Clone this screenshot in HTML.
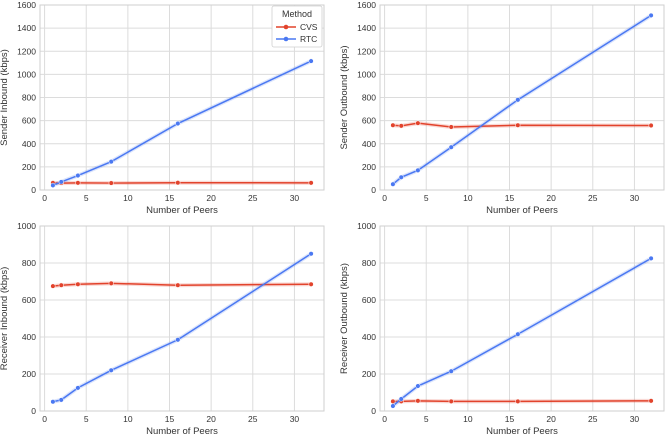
<!DOCTYPE html>
<html><head><meta charset="utf-8"><style>
html,body{margin:0;padding:0;background:#fff;}
svg{display:block;font-family:"Liberation Sans",Arial,sans-serif;}
</style></head><body>
<svg id="c" width="668" height="438" viewBox="0 0 668 438"></svg>
<script>
const peers = [1, 2, 4, 8, 16, 32];
const xTicks = [0, 5, 10, 15, 20, 25, 30];
const senderInCVS = [62, 60, 62, 60, 63, 62];
const senderInRTC = [40, 70, 125, 245, 575, 1115];
const senderOutCVS = [560, 555, 578, 545, 560, 558];
const senderOutRTC = [50, 110, 170, 370, 780, 1510];
const recvInCVS = [675, 680, 685, 690, 680, 685];
const recvInRTC = [50, 60, 125, 220, 385, 850];
const recvOutCVS = [52, 52, 55, 52, 52, 55];
const recvOutRTC = [27, 65, 135, 215, 415, 825];
const yTicksTop = [0, 200, 400, 600, 800, 1000, 1200, 1400, 1600];
const yTicksBottom = [0, 200, 400, 600, 800, 1000];

const NS = "http://www.w3.org/2000/svg";
const svg = document.getElementById('c');
function mk(tag, attrs, parent) {
  const e = document.createElementNS(NS, tag);
  for (const k in attrs) e.setAttribute(k, attrs[k]);
  (parent || svg).appendChild(e);
  return e;
}
const RED = '#e2432c', BLUE = '#4a78f2';

const panels = [
  {name:'sender-inbound', L:40, R:324, T:5, B:190, ymax:1600, yt:yTicksTop, label:'Sender Inbound (kbps)', cvs:senderInCVS, rtc:senderInRTC, legend:true},
  {name:'sender-outbound', L:380, R:664, T:5, B:190, ymax:1600, yt:yTicksTop, label:'Sender Outbound (kbps)', cvs:senderOutCVS, rtc:senderOutRTC},
  {name:'receiver-inbound', L:40, R:324, T:226, B:411, ymax:1000, yt:yTicksBottom, label:'Receiver Inbound (kbps)', cvs:recvInCVS, rtc:recvInRTC},
  {name:'receiver-outbound', L:380, R:664, T:226, B:411, ymax:1000, yt:yTicksBottom, label:'Receiver Outbound (kbps)', cvs:recvOutCVS, rtc:recvOutRTC}
];

panels.forEach(p => {
  const g = mk('g', {});
  
  
  const xs = v => p.L + (v + 0.55) / 34.1 * (p.R - p.L);
  const ys = v => p.B - v / p.ymax * (p.B - p.T);
  xTicks.forEach(t => {
    const gl = mk('line', {x1:xs(t), x2:xs(t), y1:p.T, y2:p.B, stroke:'#dcdcdc', 'stroke-width':1}, g);
    
    
    const tx = mk('text', {x:xs(t), y:p.B+11, 'font-size':8.5, fill:'#333', 'text-anchor':'middle'}, g);
    tx.textContent = t;
    
    
  });
  p.yt.forEach(t => {
    const gl = mk('line', {x1:p.L, x2:p.R, y1:ys(t), y2:ys(t), stroke:'#dcdcdc', 'stroke-width':1}, g);
    
    
    const tx = mk('text', {x:p.L-4, y:ys(t)+3, 'font-size':8.5, fill:'#333', 'text-anchor':'end'}, g);
    tx.textContent = t;
    
    
  });
  const fr = mk('rect', {x:p.L, y:p.T, width:p.R-p.L, height:p.B-p.T, fill:'none', stroke:'#cfcfcf', 'stroke-width':1}, g);
  
  
  const xl = mk('text', {x:(p.L+p.R)/2, y:p.B+23, 'font-size':9.5, fill:'#333', 'text-anchor':'middle'}, g);
  xl.textContent = 'Number of Peers';
  
  
  const cy = (p.T+p.B)/2, cx = p.L - 33;
  const yl = mk('text', {x:cx, y:cy, 'font-size':9.5, fill:'#333', 'text-anchor':'middle', transform:`rotate(-90 ${cx} ${cy})`}, g);
  yl.textContent = p.label;
  
  
  [['cvs', p.cvs, RED], ['rtc', p.rtc, BLUE]].forEach(([nm, vals, col]) => {
    const pts = peers.map((x,i) => xs(x)+','+ys(vals[i])).join(' ');
    const band = mk('polyline', {points:pts, fill:'none', stroke:col, 'stroke-opacity':0.2, 'stroke-width':4}, g);
    
    
    const ln = mk('polyline', {points:pts, fill:'none', stroke:col, 'stroke-width':1.5}, g);
    
    
    peers.forEach((x,i) => {
      const c = mk('circle', {cx:xs(x), cy:ys(vals[i]), r:2.3, fill:col, stroke:'#fff', 'stroke-width':0.5}, g);
      
      
    });
  });
  if (p.legend) {
    const lg = mk('g', {}, g);
    
    
    mk('rect', {x:272, y:6, width:50, height:41, rx:2, fill:'#fff', stroke:'#d0d0d0', 'stroke-width':0.8}, lg);
    const tt = mk('text', {x:297, y:17, 'font-size':9, fill:'#333', 'text-anchor':'middle'}, lg);
    tt.textContent = 'Method';
    
    
    [['CVS', RED, 27], ['RTC', BLUE, 39]].forEach(([t, col, y]) => {
      const e = mk('g', {}, lg);
      
      
      mk('line', {x1:276, x2:296, y1:y, y2:y, stroke:col, 'stroke-width':1.5}, e);
      mk('circle', {cx:286, cy:y, r:2.3, fill:col}, e);
      const tx = mk('text', {x:300, y:y+3, 'font-size':8.5, fill:'#333'}, e);
      tx.textContent = t;
    });
  }
});
</script>
</body></html>
